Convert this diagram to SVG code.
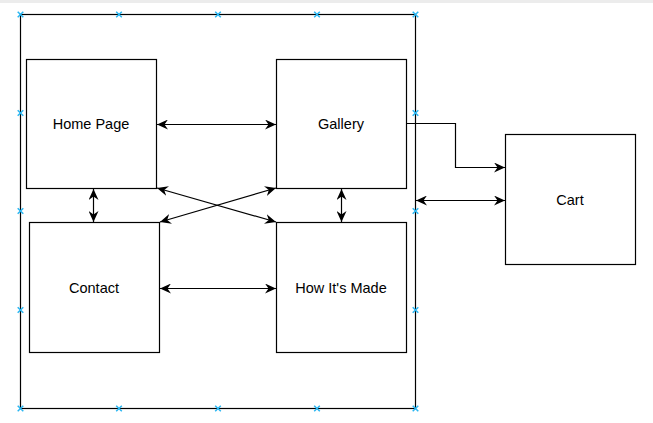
<svg xmlns="http://www.w3.org/2000/svg" width="653" height="423" viewBox="0 0 653 423">
<defs>
<style>
.box{fill:#fff;stroke:#000;stroke-width:1.2}
.frame{fill:none;stroke:#000;stroke-width:1.2}
.lbl{font-family:"Liberation Sans",Arial,sans-serif;font-size:14.5px;fill:#000;text-anchor:middle;dominant-baseline:central}
.edge{fill:none;stroke:#000;stroke-width:1.2}
.bi{marker-start:url(#arr);marker-end:url(#arr)}
.uni{marker-end:url(#arr)}
.pt{stroke:#29b6f2;stroke-width:1.5;fill:none}
</style>
<marker id="arr" viewBox="0 0 11 10" refX="11" refY="5" markerWidth="11" markerHeight="10" markerUnits="userSpaceOnUse" orient="auto-start-reverse">
<path d="M0,0 L11,5 L0,10 L3.5,5 Z" fill="#000"/>
</marker>
<path id="x" d="M-2.8,-2.8 L2.8,2.8 M-2.8,2.8 L2.8,-2.8" class="pt"/>
</defs>
<rect x="0" y="0" width="653" height="423" fill="#fff"/>
<rect x="0" y="0" width="653" height="3" fill="#ececec"/>
<g id="container">
<rect class="frame" x="20.5" y="14.5" width="395" height="394"/>
</g>
<g id="home"><rect class="box" x="26.5" y="59.5" width="130" height="129"/><text class="lbl" x="91" y="124">Home Page</text></g>
<g id="gallery"><rect class="box" x="276.5" y="59.5" width="130" height="129"/><text class="lbl" x="341" y="124">Gallery</text></g>
<g id="contact"><rect class="box" x="29.5" y="222.5" width="130" height="130"/><text class="lbl" x="94" y="288">Contact</text></g>
<g id="howitsmade"><rect class="box" x="276.5" y="222.5" width="130" height="130"/><text class="lbl" x="341" y="288">How It's Made</text></g>
<g id="cart"><rect class="box" x="505.5" y="134.5" width="130" height="130"/><text class="lbl" x="570" y="200">Cart</text></g>
<g id="connectors">
<path class="edge bi" d="M157,124.5 L276,124.5"/>
<path class="edge bi" d="M160,288.5 L276,288.5"/>
<path class="edge bi" d="M93.5,189 L93.5,222"/>
<path class="edge bi" d="M341.5,189 L341.5,222"/>
<path class="edge bi" d="M157,188 L276,222"/>
<path class="edge bi" d="M276,188 L160,222"/>
<path class="edge uni" d="M407,123.5 L455.5,123.5 L455.5,167.5 L505,167.5"/>
<path class="edge bi" d="M416,200.5 L505,200.5"/>
</g>
<g id="points">
<use href="#x" x="20.5" y="14.5"/><use href="#x" x="119" y="14.5"/><use href="#x" x="218" y="14.5"/><use href="#x" x="317" y="14.5"/><use href="#x" x="415.5" y="14.5"/>
<use href="#x" x="20.5" y="408.5"/><use href="#x" x="119" y="408.5"/><use href="#x" x="218" y="408.5"/><use href="#x" x="317" y="408.5"/><use href="#x" x="415.5" y="408.5"/>
<use href="#x" x="20.5" y="113"/><use href="#x" x="20.5" y="211"/><use href="#x" x="20.5" y="310"/>
<use href="#x" x="415.5" y="113"/><use href="#x" x="415.5" y="211"/><use href="#x" x="415.5" y="310"/>
</g>
</svg>
